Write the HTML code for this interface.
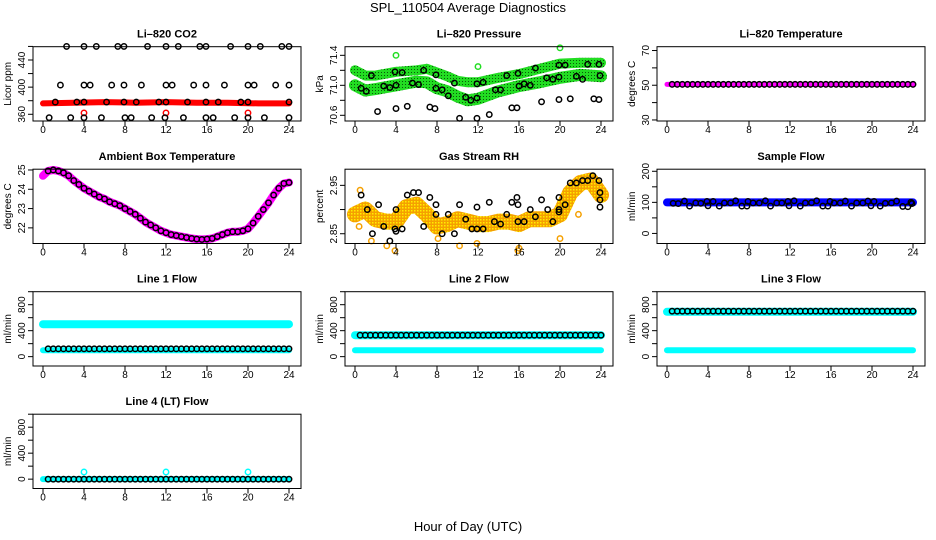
<!DOCTYPE html>
<html><head><meta charset="utf-8"><style>
body{margin:0;background:#fff}
svg{display:block;font-family:"Liberation Sans",sans-serif}
</style></head><body>
<svg id="c" width="936" height="540" viewBox="0 0 936 540">
<defs>
<pattern id="gdot" width="3" height="3" patternUnits="userSpaceOnUse"><rect width="3" height="3" fill="#22dd22"/><rect width="1" height="1" fill="#0a5a0a"/></pattern>
<pattern id="odot" width="3" height="3" patternUnits="userSpaceOnUse"><rect width="3" height="3" fill="#f5a000"/><rect width="1.5" height="1.5" fill="#ffee00"/></pattern>
</defs>
<text x="468" y="12" text-anchor="middle" font-size="13">SPL_110504  Average Diagnostics</text>
<text x="468" y="531" text-anchor="middle" font-size="13">Hour of Day (UTC)</text>
</svg>
<script>
// ---- data ----
const co2TopHours=[2.3,4,5.2,7.3,7.9,10.2,12,13.2,15.3,15.9,18.3,20,21.2,23.3,24];
const co2MidHours=[1.7,4,4.6,6.7,7.9,9.6,12,12.6,14.7,15.9,17.7,20,20.6,22.7,24];
const co2BaseHours=[1.2,3.3,4,6.2,7.9,9.1,11.3,12,14.1,15.9,17.1,19.3,20,24];
const co2LowHours=[0.6,2.7,4,5.7,8,8.6,10.6,11.9,13.7,15.9,16.6,18.7,20,21.6,24];
const co2Levels=[460,403,378,355];
const co2RedHours=[4,12,20];
const co2RedValues=[362,362,362];
const co2BandHours=[0,3,6,9,12,15,18,21,24];
const co2BandValues=[376,377,378,377,378,377,377,376,376];

const presUpperHours=[0,1,2,4,6,7,9,10,11,12,14,16,18,20,22,24];
const presUpperValues=[71.2,71.13,71.13,71.18,71.2,71.22,71.12,71.06,71.04,71.04,71.1,71.15,71.22,71.29,71.3,71.3];
const presLowerHours=[0,1,2,4,6,7,8,9,10,11,12,14,16,18,20,22,24];
const presLowerValues=[71.0,70.93,70.95,71.0,71.05,71.04,70.96,70.92,70.85,70.8,70.82,70.92,70.99,71.04,71.1,71.14,71.12];
const presGreenHours=[4,12,20];
const presGreenValues=[71.4,71.25,71.5];
const presHours=[0.6,1.1,1.6,2.2,2.8,3.4,3.9,4,4,4.6,5.1,5.6,6.2,6.7,7.3,7.8,7.9,7.9,8.5,9.1,9.7,10.2,10.8,11.3,11.9,11.9,11.9,12.5,13.1,13.7,14.2,14.8,15.3,15.8,15.9,16,16.5,17.1,17.6,18.2,18.7,19.3,19.9,19.9,19.9,20.5,21,21.6,22.2,22.7,23.3,23.8,23.8,23.9];
const presValues=[70.96,70.92,71.13,70.65,70.99,70.97,71.18,71.0,70.69,71.17,70.72,71.03,71.01,71.2,70.71,70.69,70.96,71.14,70.94,70.86,71.03,70.56,70.84,70.8,70.83,71.02,70.56,71.04,70.61,70.94,70.94,71.13,70.7,70.7,71.16,70.99,71.02,71.0,71.23,70.78,71.1,71.08,71.11,71.27,70.81,71.27,70.82,71.12,71.08,71.28,70.82,70.81,71.28,71.13];

const tempValue=[50.5];

const ambHours=[0,0.5,1,1.5,2,2.5,3,3.5,4,4.5,5,5.5,6,6.5,7,7.5,8,8.5,9,9.5,10,10.5,11,11.5,12,12.5,13,13.5,14,14.5,15,15.5,16,16.5,17,17.5,18,18.5,19,19.5,20,20.5,21,21.5,22,22.5,23,23.5,24];
const ambValues=[24.7,24.95,25.0,24.95,24.85,24.7,24.45,24.25,24.05,23.9,23.75,23.6,23.5,23.35,23.25,23.15,23.0,22.85,22.7,22.5,22.3,22.15,22.0,21.85,21.75,21.65,21.6,21.55,21.5,21.45,21.42,21.4,21.42,21.45,21.55,21.65,21.75,21.8,21.8,21.85,21.95,22.25,22.6,22.95,23.3,23.7,24.05,24.3,24.35];

const rhBandHours=[0,1,2,3,4,5,6,7,8,9,10,11,12,13,14,15,16,17,18,19,20,21,22,23,24];
const rhBandValues=[2.89,2.9,2.88,2.875,2.875,2.905,2.91,2.89,2.865,2.87,2.88,2.875,2.87,2.87,2.875,2.875,2.87,2.88,2.88,2.88,2.89,2.935,2.955,2.96,2.93];
const rhOutHours=[0.5,1.6,3.1,3.9,8.1,10.2,11.9,15.9,16,20,21.8,0.4];
const rhOutValues=[2.94,2.835,2.825,2.815,2.84,2.825,2.83,2.815,2.82,2.84,2.89,2.865];
const rhHours=[0.6,1.2,1.7,2.3,2.8,3.4,3.9,4,4,4.6,5.1,5.7,6.2,6.7,7.3,7.9,7.9,8.5,9.1,9.7,10.2,10.8,11.4,11.9,11.9,12.5,13.1,13.6,14.2,14.8,15.3,15.8,15.9,15.9,16.5,17.1,17.6,18.2,18.8,19.3,19.9,19.9,19.9,20.5,21,21.6,22.2,22.7,23.2,23.8,23.9,23.9,23.9];
const rhValues=[2.93,2.9,2.85,2.91,2.865,2.835,2.86,2.9,2.855,2.86,2.93,2.935,2.935,2.865,2.925,2.91,2.89,2.85,2.89,2.85,2.91,2.88,2.86,2.86,2.905,2.86,2.915,2.875,2.87,2.89,2.915,2.925,2.91,2.875,2.875,2.9,2.885,2.92,2.9,2.875,2.925,2.9,2.895,2.91,2.955,2.955,2.96,2.96,2.97,2.96,2.935,2.92,2.905];

const sampleBand=[100];
const sampleHours=[0.6,1.1,1.7,2.2,2.8,3.3,3.9,4,4.5,5.1,5.6,6.2,6.7,7.3,7.8,7.9,8.4,9,9.6,10.1,10.7,11.2,11.8,11.9,12.4,13,13.5,14.1,14.6,15.2,15.7,15.9,16.3,16.9,17.4,18,18.5,19.1,19.6,19.9,20.2,20.8,21.3,21.9,22.4,23,23.5,23.8,23.9];
const sampleValues=[97,96,104,88,98,97,103,89,103,88,98,98,105,88,88,103,98,98,105,88,98,98,103,89,105,88,98,99,105,88,88,103,98,98,104,88,98,98,104,89,103,88,97,98,104,87,86,100,96];

const flowDotHours=[0.5,1,1.5,2,2.5,3,3.5,4,4.5,5,5.5,6,6.5,7,7.5,8,8.5,9,9.5,10,10.5,11,11.5,12,12.5,13,13.5,14,14.5,15,15.5,16,16.5,17,17.5,18,18.5,19,19.5,20,20.5,21,21.5,22,22.5,23,23.5,24];
const line1Bands=[500,100];
const line1Dots=[120];
const line2Bands=[330,100];
const line2Dots=[330];
const line3Bands=[690,100];
const line3Dots=[700];
const line4Bands=[0];
const line4Dots=[0];
const line4OutHours=[4,12,20];
const line4OutValues=[110,110,110];

// ---- drawing ----
const NS="http://www.w3.org/2000/svg";
const svg=document.getElementById('c');
function mk(tag,attrs,parent){const e=document.createElementNS(NS,tag);for(const k in attrs)e.setAttribute(k,attrs[k]);(parent||svg).appendChild(e);return e;}

function panel(col,row,title,ylab,yTop,yBot,ticks,labels,name){
  const c=col*312, r=row*122.5;
  const bx0=33+c,bx1=301+c,by0=46.7+r,by1=121+r;
  const g=mk('g',{});
  
  
  const X=h=>43+c+h*10.25;
  const Y=v=>by0+(yTop-v)/(yTop-yBot)*(by1-by0);
  const t=mk('text',{x:(bx0+bx1)/2,y:by0-9,'text-anchor':'middle','font-size':'11','font-weight':'bold'},g);
  t.textContent=title;
  
  
  const yl=mk('text',{x:0,y:0,transform:`translate(${11+c},${(by0+by1)/2}) rotate(-90)`,'text-anchor':'middle','font-size':'10'},g);
  yl.textContent=ylab;
  
  
  const plot=mk('g',{},g);
  
  
  const ax=mk('g',{stroke:'#000','stroke-width':'1',fill:'none'},g);
  
  
  mk('rect',{x:bx0,y:by0,width:bx1-bx0,height:by1-by0},ax);
  [0,4,8,12,16,20,24].forEach(h=>{
    mk('line',{x1:X(h),x2:X(h),y1:by1,y2:by1+5},ax);
    const tl=mk('text',{x:X(h),y:by1+12,'text-anchor':'middle','font-size':'10',stroke:'none',fill:'#000'},g);
    tl.textContent=h;
    
    
  });
  ticks.forEach(v=>{
    mk('line',{x1:bx0,x2:bx0-5,y1:Y(v),y2:Y(v)},ax);
  });
  labels.forEach(v=>{
    const tl=mk('text',{x:0,y:0,transform:`translate(${25+c},${Y(v)}) rotate(-90)`,'text-anchor':'middle','font-size':'10'},g);
    tl.textContent=v;
    
    
  });
  return {X,Y,plot};
}
function band(p,hours,values,color,width,name){
  const pts=hours.map((h,i)=>p.X(h).toFixed(1)+','+p.Y(values[i]).toFixed(1)).join(' ');
  const l=mk('polyline',{points:pts,fill:'none',stroke:color,'stroke-width':width,'stroke-linejoin':'round','stroke-linecap':'round'},p.plot);
  
  
}
function pts(p,hours,values,color,name){
  hours.forEach((h,i)=>{
    const e=mk('circle',{cx:p.X(h),cy:p.Y(values[i]),r:2.7,fill:'none',stroke:color,'stroke-width':1.5},p.plot);
    
    
  });
}
const full=[0,24];

// CO2
let p=panel(0,0,'Li–820 CO2','Licor ppm',459.6,350.1,[360,380,400,420,440,460],[360,400,440],'co2');
band(p,co2BandHours,co2BandValues,'#ff0000',6,'co2-band');
pts(p,co2RedHours,co2RedValues,'#ff0000','co2-red-point');
[co2TopHours,co2MidHours,co2BaseHours,co2LowHours].forEach((hs,k)=>pts(p,hs,hs.map(()=>co2Levels[k]),'#000','co2-point'));

// Pressure
p=panel(1,0,'Li–820 Pressure','kPa',71.515,70.524,[70.6,70.8,71.0,71.2,71.4],['70.6','71.0','71.4'],'pressure');
band(p,presUpperHours,presUpperValues,'url(#gdot)',10,'pressure-upper-band');
band(p,presLowerHours,presLowerValues,'url(#gdot)',12,'pressure-lower-band');
pts(p,presGreenHours,presGreenValues,'#22dd22','pressure-green-point');
pts(p,presHours,presValues,'#000','pressure-point');

// Li-820 temp
p=panel(2,0,'Li–820 Temperature','degrees C',72.2,29.4,[30,40,50,60,70],[30,50,70],'li820-temp');
band(p,full,[tempValue[0],tempValue[0]],'#ff00ff',5,'li820-temp-band');
pts(p,flowDotHours,flowDotHours.map(()=>tempValue[0]),'#000','li820-temp-point');

// Ambient
p=panel(0,1,'Ambient Box Temperature','degrees C',25.04,21.19,[22,23,24,25],[22,23,24,25],'ambient');
band(p,ambHours,ambValues,'#ff00ff',8,'ambient-band');
pts(p,ambHours.slice(1),ambValues.slice(1),'#000','ambient-point');

// RH
p=panel(1,1,'Gas Stream RH','percent',2.9834,2.8298,[2.85,2.90,2.95],['2.85','2.95'],'rh');
band(p,rhBandHours,rhBandValues,'url(#odot)',16,'rh-band');
pts(p,rhOutHours,rhOutValues,'#f5a000','rh-orange-point');
pts(p,rhHours,rhValues,'#000','rh-point');

// Sample flow
p=panel(2,1,'Sample Flow','ml/min',206.7,-32.4,[0,50,100,150,200],[0,100,200],'sample-flow');
band(p,full,[sampleBand[0],sampleBand[0]],'#0000ff',8,'sample-flow-band');
pts(p,sampleHours,sampleValues,'#000','sample-flow-point');

// Line flows
function lineFlow(col,row,title,bands,dots,name){
  const q=panel(col,row,title,'ml/min',1000,-144,[0,200,400,600,800,1000],[0,400,800],name);
  bands.forEach((b,i)=>band(q,full,[b,b],'#00ffff',i===0&&b>200?8:6,name+'-band'));
  pts(q,flowDotHours,flowDotHours.map(()=>dots[0]),'#000',name+'-point');
  return q;
}
lineFlow(0,2,'Line 1 Flow',line1Bands,line1Dots,'line1-flow');
lineFlow(1,2,'Line 2 Flow',line2Bands,line2Dots,'line2-flow');
lineFlow(2,2,'Line 3 Flow',line3Bands,line3Dots,'line3-flow');
p=lineFlow(0,3,'Line 4 (LT) Flow',line4Bands,line4Dots,'line4-flow');
pts(p,line4OutHours,line4OutValues,'#00ffff','line4-flow-outlier');
</script>
</body></html>
